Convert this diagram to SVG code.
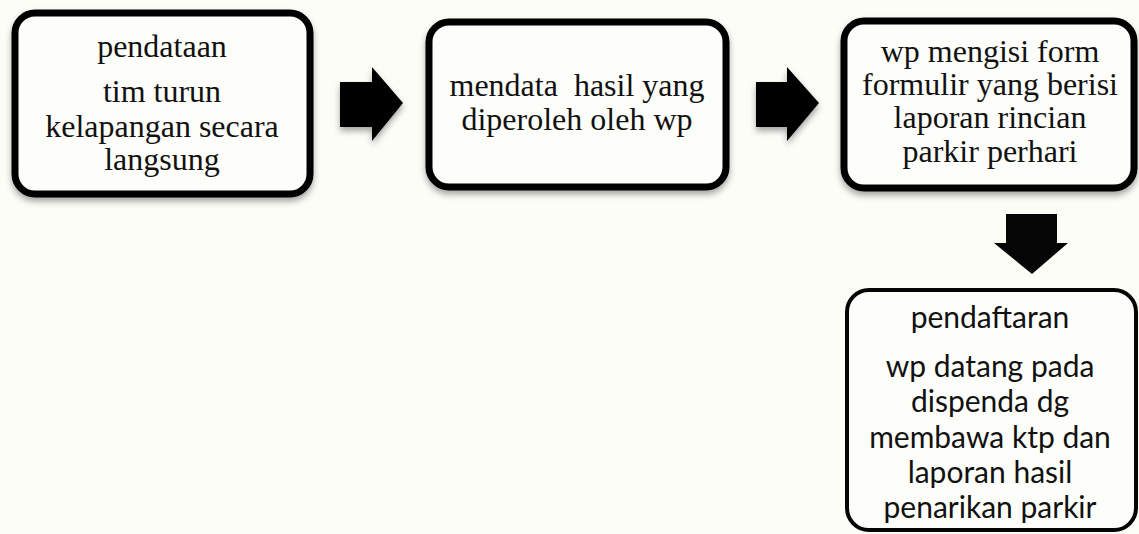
<svg xmlns="http://www.w3.org/2000/svg" width="1139" height="534" viewBox="0 0 1139 534">
  <defs>
    <style>
      .box { fill: #fdfdf9; stroke: #050505; stroke-width: 7; }
      .box4 { fill: #fdfdf9; stroke: #050505; stroke-width: 4; }
      .serif { font-family: "Liberation Serif", "Times New Roman", serif; font-size: 32px; fill: #111; text-anchor: middle; }
      .sans { font-family: Lato, "Liberation Sans", sans-serif; font-size: 30px; fill: #111; text-anchor: middle; }
      .arrow { fill: #050505; }
    </style>
    <filter id="shadow" x="-10%" y="-10%" width="120%" height="130%">
      <feDropShadow dx="0" dy="4" stdDeviation="3" flood-color="#000" flood-opacity="0.35"/>
    </filter>
  </defs>
  <rect width="1139" height="534" fill="#fdfdf8"/>
  <g id="connectors">
    <polygon class="arrow" points="340,82 372,82 372,67 403,103 372,141 372,127 340,127" filter="url(#shadow)"/>
    <polygon class="arrow" points="756,82 787,82 787,67 819,103 787,141 787,127 756,127" filter="url(#shadow)"/>
    <polygon class="arrow" points="1006,214 1057,214 1057,243 1068,243 1032,274 994,243 1006,243"/>
  </g>
  <g id="node1">
    <rect class="box" x="15" y="13" width="295" height="181" rx="20" filter="url(#shadow)"/>
    <text class="serif" x="162" y="57">pendataan</text>
    <text class="serif" x="162" y="102">tim turun</text>
    <text class="serif" x="162" y="137">kelapangan secara</text>
    <text class="serif" x="162" y="170">langsung</text>
  </g>
  <g id="node2">
    <rect class="box" x="429" y="22" width="297" height="165" rx="20" filter="url(#shadow)"/>
    <text class="serif" x="577" y="96" xml:space="preserve">mendata  hasil yang</text>
    <text class="serif" x="577" y="130">diperoleh oleh wp</text>
  </g>
  <g id="node3">
    <rect class="box" x="844" y="21" width="290" height="167" rx="20" filter="url(#shadow)"/>
    <text class="serif" x="990" y="62">wp mengisi form</text>
    <text class="serif" x="990" y="95">formulir yang berisi</text>
    <text class="serif" x="990" y="128">laporan rincian</text>
    <text class="serif" x="990" y="162">parkir perhari</text>
  </g>
  <g id="node4">
    <rect class="box4" x="847" y="290" width="289" height="240" rx="22"/>
    <text class="sans" x="990" y="328">pendaftaran</text>
    <text class="sans" x="990" y="377">wp datang pada</text>
    <text class="sans" x="990" y="412">dispenda dg</text>
    <text class="sans" x="990" y="448">membawa ktp dan</text>
    <text class="sans" x="990" y="483">laporan hasil</text>
    <text class="sans" x="990" y="518">penarikan parkir</text>
  </g>
</svg>
